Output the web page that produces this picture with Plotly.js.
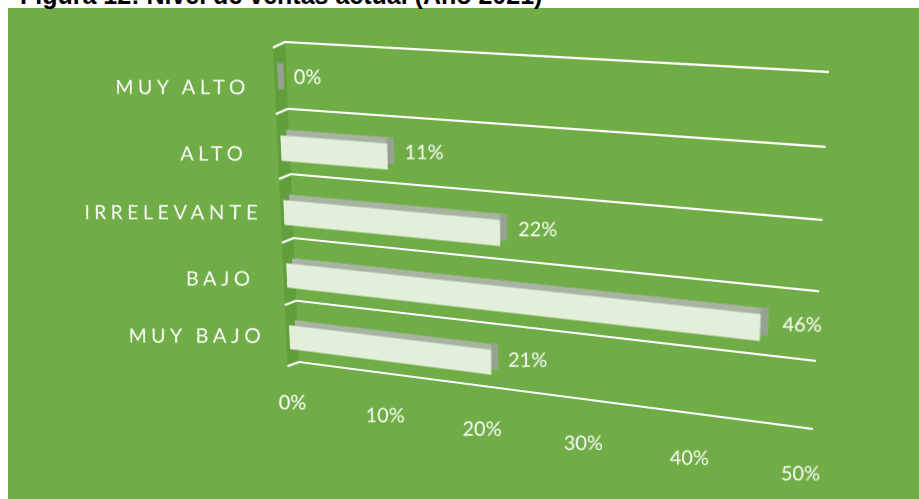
<!DOCTYPE html>
<html>
<head>
<meta charset="utf-8">
<script src="https://cdn.plot.ly/plotly-3.0.1.min.js"></script>
<style>
  html, body { margin: 0; padding: 0; background: #ffffff; overflow: hidden; }
  #frame, #chart { position: absolute; left: 0; top: 0; width: 919px; height: 499px; }
  #chart { transform-origin: 0 0; }
</style>
</head>
<body>
<div id="frame"></div>
<div id="chart"></div>
<script>
// ---- data ----
const categories = ['MUY BAJO', 'BAJO', 'IRRELEVANTE', 'ALTO', 'MUY ALTO'];   // bottom to top
const shares = [0.21, 0.46, 0.22, 0.11, 0.00];
const valueTicks = [0, 0.1, 0.2, 0.3, 0.4, 0.5];
const figureTitle = 'Figura 12: Nivel de ventas actual (Año 2021)';

// ---- look ----
const W = 919, H = 499;
const GREEN = '#70AD47', FLOOR = '#619F3C', FRONT = '#E3EFDA', TOP = '#A8B3A3', END = '#96A191';
const FONT = { family: 'Lato, "Open Sans", sans-serif', size: 20, color: '#ffffff' };

// back wall in the flat drawing (px) and where its corners land on the page
const wallFlat = { l: 285, r: 829, t: 42, b: 362 };
const wallPage = [[285, 42], [829, 72], [299, 362], [813, 429]];   // TL, TR, BL, BR
const leftPad = 24;                                                   // room left of 0 for the floor

const xMax = valueTicks[valueTicks.length - 1];
const nCat = categories.length;
const pxPerVal = (wallFlat.r - wallFlat.l) / xMax;
const pxPerCat = (wallFlat.b - wallFlat.t) / nCat;

// depth offsets relative to the back wall (px; right / down positive)
const backFace = { dx: -3, dy: 1 };
const frontFace = { dx: -10, dy: 7 };
const floorDepth = { dx: -14, dy: 6 };
const barWidth = 0.39;
const endDepth = (backFace.dx - frontFace.dx) / pxPerVal;

const idx = categories.map((_, i) => i);
const shiftX = d => d.dx / pxPerVal;          // value units
const shiftY = d => d.dy / pxPerCat;          // category units (down positive)

// ---- frame: white page, green chart area, clipped caption ----
Plotly.newPlot('frame', [], {
  width: W, height: H,
  margin: { l: 0, r: 0, t: 0, b: 0 },
  paper_bgcolor: '#ffffff', plot_bgcolor: '#ffffff',
  xaxis: { visible: false, range: [0, 1] },
  yaxis: { visible: false, range: [0, 1] },
  shapes: [{ type: 'rect', xref: 'paper', yref: 'paper', x0: 8 / W, x1: 1, y0: 0, y1: 1 - 8 / H,
             fillcolor: GREEN, line: { width: 0 }, layer: 'below' }],
  annotations: [{ text: '<b>' + figureTitle + '</b>', xref: 'paper', yref: 'paper',
                  x: 18 / W, xanchor: 'left', y: 1 - 11.5 / H, yanchor: 'bottom', showarrow: false,
                  font: { family: '"Liberation Sans", Arial, sans-serif', size: 25, color: '#000000' } }]
}, { staticPlot: true, displayModeBar: false });

// ---- chart, drawn flat and then projected onto the back wall ----
const face = (d, color, len, base) => ({
  type: 'bar', orientation: 'h', y: idx, x: len, base: base,
  width: barWidth, offset: -barWidth / 2 - shiftY(d),
  marker: { color: color, line: { width: 0 } }, cliponaxis: false, hoverinfo: 'skip'
});
const traces = [
  face(backFace, TOP, shares, shares.map(() => shiftX(backFace))),
  face(backFace, END, shares.map(() => endDepth), shares.map(v => v + shiftX(backFace) - endDepth)),
  face(frontFace, FRONT, shares, shares.map(() => shiftX(frontFace)))
];

const floorDy = floorDepth.dy / (wallFlat.b - wallFlat.t);
const shapes = [{
  type: 'path', xref: 'x', yref: 'paper', layer: 'below', fillcolor: FLOOR, line: { width: 0 },
  path: `M 0,0 L 0,1 L ${shiftX(floorDepth)},${1 - floorDy} L ${shiftX(floorDepth)},${-floorDy} Z`
}];
for (let k = 0; k <= nCat; k++) {
  const yp = k / nCat;
  // category separators on the back wall
  shapes.push({ type: 'line', xref: 'x', yref: 'paper', x0: 0, x1: xMax, y0: yp, y1: yp,
                line: { color: '#ffffff', width: 2 }, layer: 'below' });
  // and their continuation across the floor
  shapes.push({ type: 'line', xref: 'x', yref: 'paper', x0: 0, y0: yp, x1: shiftX(floorDepth), y1: yp - floorDy,
                line: { color: '#ffffff', width: 2 }, layer: 'below' });
}

const labels = shares.map((v, i) => ({
  xref: 'x', yref: 'y', x: v, y: i, text: Math.round(v * 100) + '%',
  xanchor: 'left', yanchor: 'middle', xshift: frontFace.dx + 18, yshift: 1,
  showarrow: false, font: FONT
}));

const xMin = -leftPad / pxPerVal;
const layout = {
  width: W, height: H,
  margin: { l: wallFlat.l - leftPad, r: W - wallFlat.r, t: wallFlat.t, b: H - wallFlat.b },
  paper_bgcolor: 'rgba(0,0,0,0)', plot_bgcolor: 'rgba(0,0,0,0)',
  showlegend: false, barmode: 'overlay',
  xaxis: { range: [xMin, xMax], tickvals: valueTicks, tickformat: '.0%', ticks: '', showgrid: false,
           zeroline: false, showline: false, tickfont: FONT,
           ticklabelstandoff: 30, ticklabelshift: frontFace.dx },
  yaxis: { range: [-0.5, nCat - 0.5], tickvals: idx, ticktext: categories, ticks: '', showgrid: false,
           zeroline: false, showline: false, tickfont: FONT,
           ticklabelstandoff: 31, ticklabelshift: 18 },
  shapes: shapes,
  annotations: labels
};

// projective map from the flat wall rectangle to the page quad
function homography(src, dst) {
  const A = [], bv = [];
  for (let i = 0; i < 4; i++) {
    const [x, y] = src[i], [u, v] = dst[i];
    A.push([x, y, 1, 0, 0, 0, -x * u, -y * u]); bv.push(u);
    A.push([0, 0, 0, x, y, 1, -x * v, -y * v]); bv.push(v);
  }
  const n = 8;
  for (let c = 0; c < n; c++) {
    let p = c;
    for (let r = c + 1; r < n; r++) if (Math.abs(A[r][c]) > Math.abs(A[p][c])) p = r;
    [A[c], A[p]] = [A[p], A[c]]; [bv[c], bv[p]] = [bv[p], bv[c]];
    for (let r = 0; r < n; r++) {
      if (r === c) continue;
      const f = A[r][c] / A[c][c];
      for (let k = c; k < n; k++) A[r][k] -= f * A[c][k];
      bv[r] -= f * bv[c];
    }
  }
  return bv.map((v, i) => v / A[i][i]);
}

function jacobian(h, x, y) {
  const u = h[0] * x + h[1] * y + h[2], v = h[3] * x + h[4] * y + h[5], w = h[6] * x + h[7] * y + 1;
  const w2 = w * w;
  return [(h[0] * w - u * h[6]) / w2, (h[1] * w - u * h[7]) / w2,
          (h[3] * w - v * h[6]) / w2, (h[4] * w - v * h[7]) / w2];
}

const toDOM = m => new DOMMatrix([m.a, m.b, m.c, m.d, m.e, m.f]);

// keep every text upright and undistorted after projection
function uprightText(gd, h) {
  gd.querySelectorAll('svg text').forEach(el => {
    const bb = el.getBBox();
    if (!bb.width) return;
    const ctm = toDOM(el.getCTM()), pctm = toDOM(el.parentNode.getCTM());
    const p = new DOMPoint(bb.x + bb.width / 2, bb.y + bb.height / 2).matrixTransform(ctm);
    const [a, b, c, d] = jacobian(h, p.x, p.y);
    const det = a * d - b * c;
    const inv = new DOMMatrix([d / det, -c / det, -b / det, a / det, 0, 0]);
    const T = new DOMMatrix().translate(p.x, p.y).multiply(inv).translate(-p.x, -p.y);
    const G = pctm.inverse().multiply(T).multiply(pctm);
    const g = document.createElementNS('http://www.w3.org/2000/svg', 'g');
    g.setAttribute('transform', `matrix(${G.a},${G.b},${G.c},${G.d},${G.e},${G.f})`);
    el.parentNode.insertBefore(g, el);
    g.appendChild(el);
  });
}

const gd = document.getElementById('chart');
Plotly.newPlot(gd, traces, layout, { staticPlot: true, displayModeBar: false }).then(() => {
  gd.querySelectorAll('.ytick text').forEach(t => { t.style.letterSpacing = '4.5px'; });
  const src = [[wallFlat.l, wallFlat.t], [wallFlat.r, wallFlat.t], [wallFlat.l, wallFlat.b], [wallFlat.r, wallFlat.b]];
  const h = homography(src, wallPage);
  uprightText(gd, h);
  gd.style.transform = `matrix3d(${h[0]},${h[3]},0,${h[6]},${h[1]},${h[4]},0,${h[7]},0,0,1,0,${h[2]},${h[5]},0,1)`;
});
</script>
</body>
</html>
